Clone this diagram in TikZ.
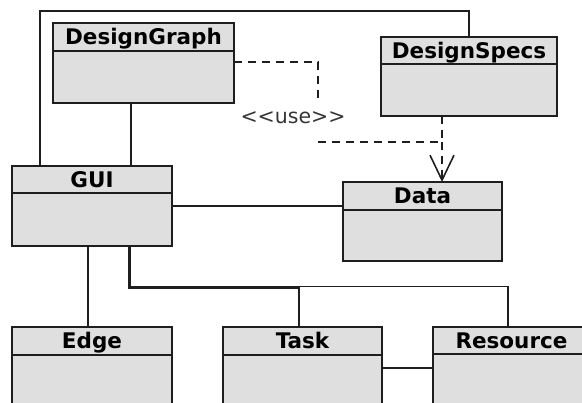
\documentclass[tikz,border=0pt]{standalone}
\usepackage{fontspec}
\setmainfont{DejaVu Sans}
\usetikzlibrary{arrows.meta}
\definecolor{boxgray}{HTML}{DFDFDF}
\definecolor{ink}{HTML}{1E1E1E}
\tikzset{
  clsbox/.style={draw=ink, fill=boxgray, line width=1.7pt, rectangle, inner sep=0pt, outer sep=0pt},
  clsline/.style={draw=ink, line width=1.7pt},
  clstitle/.style={inner sep=0pt, font=\bfseries\fontsize{21.5}{24}\selectfont},
  assoc/.style={draw=ink, line width=1.6pt},
  depend/.style={draw=ink, line width=1.6pt, dash pattern=on 8pt off 6pt},
  uselabel/.style={inner sep=2pt, text=ink!90, font=\fontsize{20.5}{22}\selectfont}
}
\newcommand{\umlclass}[7]{%
  \node[clsbox, anchor=north west, minimum width={#4-#2}, minimum height={#5-#3}] (#1) at (#2,#3) {};
  \draw[clsline] ([yshift=-#6pt]#1.north west) -- ([yshift=-#6pt]#1.north east);
  \node[clstitle, anchor=base] (#1-title) at ([yshift=-22pt]#1.north) {#7};
}
\begin{document}
\begin{tikzpicture}[x=1pt, y=-1pt]
\path[use as bounding box] (0,0) rectangle (582,403);
\clip (0,0) rectangle (582,403);
\fill[white] (0,0) rectangle (582,403);

\umlclass{dg}{53}{23}{234}{103}{28}{DesignGraph}
\umlclass{ds}{381}{37}{557}{116}{27}{DesignSpecs}
\umlclass{gui}{12}{166}{172}{246}{27}{GUI}
\umlclass{data}{343}{182}{502}{261}{28}{Data}
\umlclass{edge}{12}{327}{172}{430}{28}{Edge}
\umlclass{task}{223}{327}{382}{430}{28}{Task}
\umlclass{res}{433}{327}{590}{430}{27}{Resource}

\coordinate (topright) at (469,11);
\draw[assoc] ([xshift=28pt]gui.north west) |- (topright) -- ([xshift=88pt]ds.north west);
\draw[assoc] ([xshift=78pt]dg.south west) -- ([xshift=119pt]gui.north west);
\draw[assoc] ([yshift=-40pt]gui.north east) -- ([yshift=-24pt]data.north west);
\draw[assoc] ([xshift=76pt]gui.south west) -- ([xshift=76pt]edge.north west);
\draw[assoc] ([xshift=117pt]gui.south west) |- ([xshift=76pt,yshift=39pt]task.north west) -- ([xshift=76pt]task.north west);
\draw[assoc] ([xshift=118.5pt]gui.south west) |- ([xshift=75pt,yshift=40.5pt]res.north west) -- ([xshift=75pt]res.north west);
\draw[assoc] ([yshift=-41pt]task.north east) -- ([yshift=-41pt]res.north west);

\node[uselabel] (use) at (293,118) {<{}<use>{}>};
\coordinate (bend1) at (318,62);
\coordinate (bend2) at (318,142);
\coordinate (merge) at (442,142);
\coordinate (gapstart) at (318,103);
\draw[depend] ([yshift=-39pt]dg.north east) -- (bend1) -- (gapstart);
\draw[depend] (bend2) -- (merge);
\draw[depend] ([xshift=61pt]ds.south west) -- (merge);
\draw[depend, -{Straight Barb[length=25pt, width=24pt, line width=1.6pt]}] (merge) -- ([xshift=99pt]data.north west);
\end{tikzpicture}
\end{document}
